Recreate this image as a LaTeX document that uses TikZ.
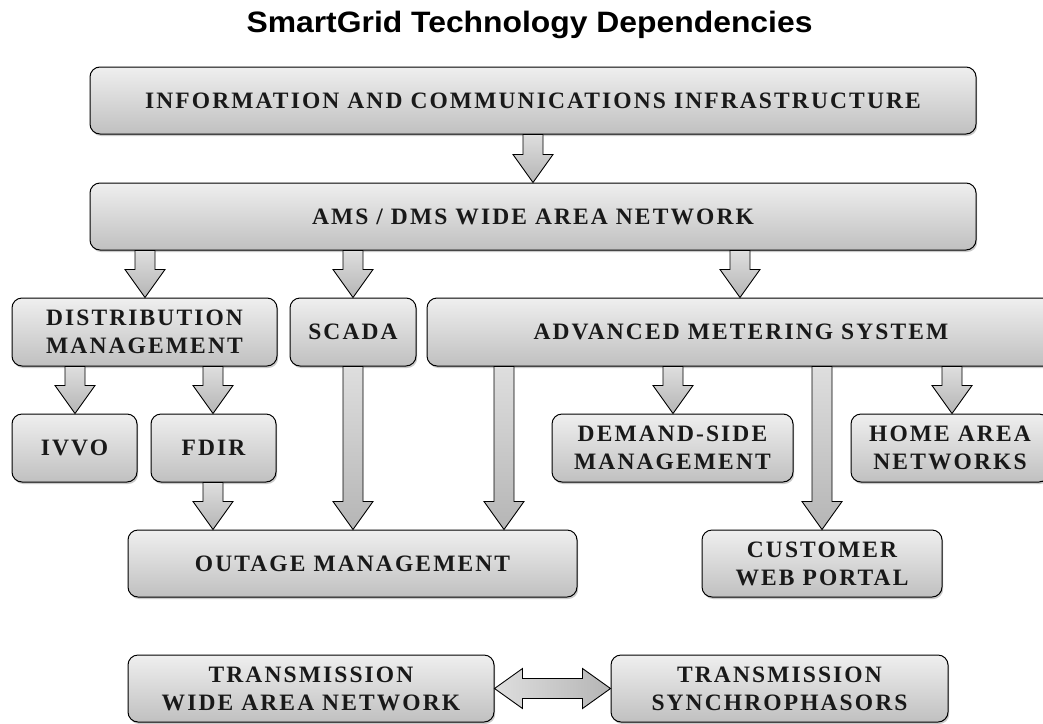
\documentclass[tikz,border=0pt]{standalone}
\usepackage{fontspec}
\setmainfont{Liberation Serif}
\newfontfamily\boxfont{Liberation Serif}[LetterSpace=9]
\newfontfamily\titlefont{Liberation Sans}
\usetikzlibrary{shadows,calc}
\definecolor{boxtop}{HTML}{EFEFEF}
\definecolor{boxbot}{HTML}{C0C0C0}
\definecolor{arrtop}{HTML}{DEDEDE}
\definecolor{arrbot}{HTML}{B5B5B5}
\tikzset{
  boxnode/.style={draw=black, line width=1pt, rounded corners=10pt,
    top color=boxtop, bottom color=boxbot, minimum height=67pt, inner sep=0pt,
    align=center, font=\boxfont\bfseries\fontsize{23.5}{28}\selectfont, text=black!90,
    drop shadow={shadow xshift=1.2pt, shadow yshift=-2pt, opacity=0.35, fill=black!60}},
  barrow/.style={draw=black, line width=0.9pt, top color=arrtop, bottom color=arrbot, line join=miter},
  hbarrow/.style={draw=black, line width=0.9pt, left color=arrtop, right color=arrbot, line join=miter},
}
\newcommand\blockdown[3]{%
  \draw[barrow] let \p0=(#1,0), \p1=(#2.south), \p2=(#3.north) in
    (\x0-10pt,\y1) -- (\x0-10pt,\y2+28pt) -- (\x0-20pt,\y2+28pt) -- (\x0,\y2)
    -- (\x0+20pt,\y2+28pt) -- (\x0+10pt,\y2+28pt) -- (\x0+10pt,\y1) -- cycle;}
\begin{document}
\begin{tikzpicture}[x=1pt,y=-1pt]
\useasboundingbox (0,0) rectangle (1043,723);
\clip (0,0) rectangle (1043,723);
\node[anchor=base, inner sep=0pt, font=\titlefont\bfseries\fontsize{29.5}{34}\selectfont] (title) at (529.5,32) {\scalebox{1.08}[1]{SmartGrid Technology Dependencies}};
\node[boxnode, minimum width=886pt] (info) at (533,100.5) {INFORMATION AND COMMUNICATIONS INFRASTRUCTURE};
\node[boxnode, minimum width=886pt] (amsdms) at (533,216.5) {AMS / DMS WIDE AREA NETWORK};
\node[boxnode, minimum width=265pt, minimum height=68pt] (dm) at (144.5,332) {DISTRIBUTION\\MANAGEMENT};
\node[boxnode, minimum width=126pt, minimum height=68pt] (scada) at (353,332) {SCADA};
\node[boxnode, minimum width=628pt, minimum height=68pt] (ams) at (741,332) {ADVANCED METERING SYSTEM};
\node[boxnode, minimum width=125pt, minimum height=68pt] (ivvo) at (74.5,448) {IVVO};
\node[boxnode, minimum width=125pt, minimum height=68pt] (fdir) at (213.5,448) {FDIR};
\node[boxnode, minimum width=241pt, minimum height=68pt] (dsm) at (672.5,448) {DEMAND-SIDE\\MANAGEMENT};
\node[boxnode, minimum width=198pt, minimum height=68pt] (han) at (950,448) {HOME AREA\\NETWORKS};
\node[boxnode, minimum width=449pt] (outage) at (352.5,563.5) {OUTAGE MANAGEMENT};
\node[boxnode, minimum width=240pt] (cwp) at (822,563.5) {CUSTOMER\\WEB PORTAL};
\node[boxnode, minimum width=366pt] (twan) at (311,688.5) {TRANSMISSION\\WIDE AREA NETWORK};
\node[boxnode, minimum width=337pt] (ts) at (779.5,688.5) {TRANSMISSION\\SYNCHROPHASORS};
\blockdown{533}{info}{amsdms}
\blockdown{145}{amsdms}{dm}
\blockdown{353}{amsdms}{scada}
\blockdown{740}{amsdms}{ams}
\blockdown{75}{dm}{ivvo}
\blockdown{213}{dm}{fdir}
\blockdown{213}{fdir}{outage}
\blockdown{353}{scada}{outage}
\blockdown{504}{ams}{outage}
\blockdown{673}{ams}{dsm}
\blockdown{822}{ams}{cwp}
\blockdown{952}{ams}{han}
\draw[hbarrow] let \p1=(twan.east), \p2=(ts.west) in
  (\x1,\y1) -- (\x1+28pt,\y1+20pt) -- (\x1+28pt,\y1+10pt) -- (\x2-28pt,\y1+10pt)
  -- (\x2-28pt,\y1+20pt) -- (\x2,\y1) -- (\x2-28pt,\y1-20pt) -- (\x2-28pt,\y1-10pt)
  -- (\x1+28pt,\y1-10pt) -- (\x1+28pt,\y1-20pt) -- cycle;
\end{tikzpicture}
\end{document}
